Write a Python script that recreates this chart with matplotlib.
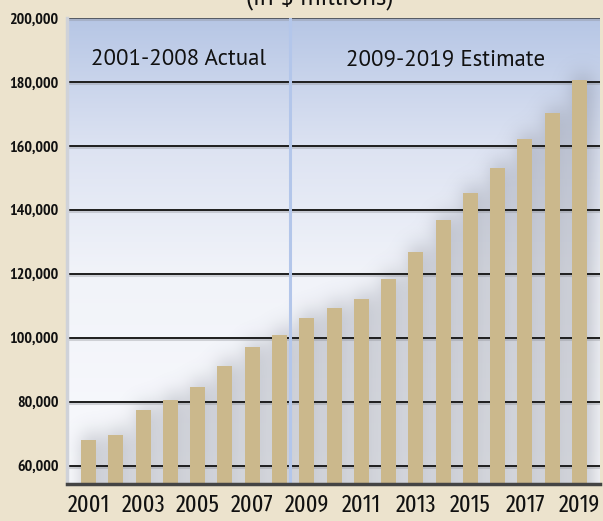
import matplotlib

matplotlib.use("Agg")
import matplotlib.pyplot as plt  # noqa: E402
import numpy as np  # noqa: E402
from matplotlib.colors import LinearSegmentedColormap  # noqa: E402

# Annual values, $ millions
years = np.arange(2001, 2020)
values = np.array([68100, 69700, 77300, 80500, 84600, 91000, 97000, 101000,
                   106300, 109400, 112200, 118400, 126800, 136800, 145300,
                   153200, 162100, 170300, 180600])
yticks = [60000, 80000, 100000, 120000, 140000, 160000, 180000, 200000]
xtick_years = years[::2]
split_year = 2008.4
region_labels = ["2001-2008 Actual", "2009-2019 Estimate"]
title = "(in $ millions)"

BG = "#ece3cd"
BAR = "#cbb88c"
TICK_FONT = ["Fira Sans Extra Condensed", "PT Sans Narrow", "DejaVu Sans"]
YTICK_FONT = ["PT Sans Narrow", "Fira Sans Condensed", "DejaVu Sans"]
BODY_FONT = ["PT Sans", "Open Sans", "DejaVu Sans"]

fig = plt.figure(figsize=(6.03, 5.21), dpi=100, facecolor=BG)
ax = fig.add_axes([67 / 603, 1 - 483.5 / 521, 533 / 603, 465.5 / 521])
x0, x1 = 2000.21, 2019.75
y0, y1 = 54400, 200000
ax.set_xlim(x0, x1)
ax.set_ylim(y0, y1)

# blue-to-white backdrop of the plot area
grad = LinearSegmentedColormap.from_list(
    "bg", [(0.0, "#f9fafd"), (0.45, "#f1f3f9"), (0.72, "#dde3f2"), (1.0, "#b6c6e5")])
ax.imshow(np.linspace(0, 1, 256).reshape(-1, 1), cmap=grad, origin="lower",
          extent=(0, 1, 0, 1), transform=ax.transAxes, aspect="auto", zorder=0)

# soft drop shadow behind the bars: blurred mask of the bar shapes
W, H = 533, 466
width = 0.55
xs = np.linspace(x0, x1, W)
ys = np.linspace(y0, y1, H)
mask = np.zeros((H, W))
for yr, v in zip(years, values):
    cols = np.abs(xs - yr - 0.15) <= width / 2 + 0.05
    rows = ys <= v + 1500
    mask[np.ix_(rows, cols)] = 1.0
k = np.arange(-36, 37)
kern = np.exp(-0.5 * (k / 10.0) ** 2)
kern /= kern.sum()
pad = np.pad(mask, 36, mode="edge")
blur = np.apply_along_axis(lambda r: np.convolve(r, kern, mode="same"), 1, pad)
blur = np.apply_along_axis(lambda c: np.convolve(c, kern, mode="same"), 0, blur)
blur = blur[36:-36, 36:-36]
shadow = np.zeros((H, W, 4))
shadow[..., :3] = (0.42, 0.44, 0.50)
shadow[..., 3] = blur * 0.45
ax.imshow(shadow, origin="lower", extent=(x0, x1, y0, y1), aspect="auto", zorder=1)

# gridlines
for t in yticks:
    ax.axhline(t - 350, color="#8a8c92", lw=2.2, alpha=0.35, zorder=2)
    ax.axhline(t, color="#555a63" if t == 200000 else "#1e1e1e", lw=1.4, zorder=2)

ax.axvline(split_year, color="#b3c6ea", lw=2.2, zorder=2)

ax.bar(years, values, width=width, color=BAR, zorder=3)

for lbl, cx in zip(region_labels, [(x0 + split_year) / 2, (split_year + x1) / 2]):
    ax.text(cx, 0.91, lbl, transform=ax.get_xaxis_transform(), ha="center",
            va="center", fontsize=16.5, family=BODY_FONT, color="#111111", zorder=4)

ax.set_yticks(yticks, [f"{t:,}" for t in yticks], fontsize=11.5,
              fontweight="bold", family=YTICK_FONT, color="#111111")
ax.set_xticks(xtick_years, [str(y) for y in xtick_years], fontsize=17.5,
              family=TICK_FONT, color="#111111")
ax.tick_params(length=0)
ax.tick_params(axis="y", pad=6)
ax.tick_params(axis="x", pad=7)

for side in ("top", "right"):
    ax.spines[side].set_visible(False)
ax.spines["bottom"].set_color("#444444")
ax.spines["bottom"].set_linewidth(2.5)
ax.spines["bottom"].set_zorder(5)
ax.spines["left"].set_color("#cfd2d9")
ax.spines["left"].set_linewidth(2.5)

fig.text(0.53, 1 - 11 / 521, title, ha="center", va="bottom", fontsize=18,
         family=BODY_FONT, color="#111111")

fig.savefig("out.png", dpi=100, facecolor=BG)
